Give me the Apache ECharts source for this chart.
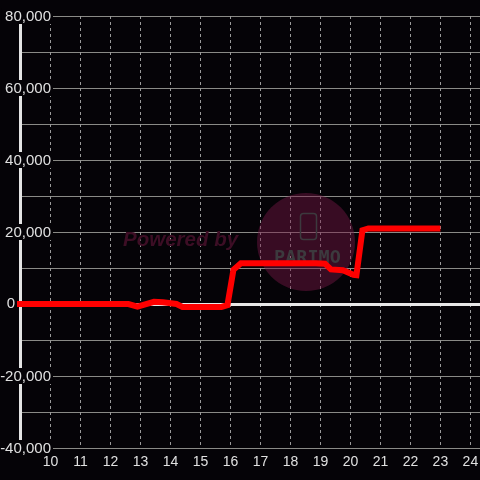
<!DOCTYPE html>
<html><head><meta charset="utf-8">
<script src="https://cdn.jsdelivr.net/npm/echarts@6/dist/echarts.min.js"></script>
<style>html,body{margin:0;padding:0;background:#050307;}#c{width:480px;height:480px;}</style>
</head><body><div id="c"></div>
<script>
var xValues = [8.88, 12.6, 12.9, 13.45, 13.75, 14.2, 14.4, 15.7, 15.9, 16.1, 16.35, 18.85, 19.15, 19.35, 19.75, 20.1, 20.2, 20.4, 20.6, 23];
var yValues = [0, 0, -700, 600, 500, 0, -800, -800, -300, 9500, 11300, 11300, 11200, 9600, 9400, 8100, 8000, 20500, 21000, 21000];
var xTicks = [10, 11, 12, 13, 14, 15, 16, 17, 18, 19, 20, 21, 22, 23, 24];
var yTicks = [-40000, -20000, 0, 20000, 40000, 60000, 80000];

var seriesData = xValues.map(function (x, i) { return [x, yValues[i]]; });
var chart = echarts.init(document.getElementById('c'), null, {renderer: 'canvas'});
var fontFam = '"Liberation Sans", Arial, sans-serif';
chart.setOption({
  backgroundColor: '#050307',
  animation: false,
  grid: {left: 20.5, right: 0, top: 16, bottom: 32, containLabel: false, outerBoundsMode: 'none'},
  xAxis: [{
    type: 'value', min: 9, max: 24.32, interval: 1,
    axisLine: {show: false, onZero: false}, axisTick: {show: false},
    splitLine: {show: true, lineStyle: {color: '#9a9a9a', width: 1, type: [3, 3]}},
    axisLabel: {
      color: '#e0e0e0', fontSize: 14, fontFamily: fontFam, margin: 7,
      formatter: function (v) { return xTicks.indexOf(v) >= 0 ? String(v) : ''; }
    }
  }, {
    type: 'value', min: 9, max: 24.32, position: 'bottom',
    axisLine: {show: true, onZero: true, onZeroAxisIndex: 0, lineStyle: {color: '#e8e8e8', width: 3}},
    axisTick: {show: false}, axisLabel: {show: false}, splitLine: {show: false}
  }],
  yAxis: {
    type: 'value', min: -40000, max: 80000, interval: 20000,
    axisLine: {show: true, onZero: false, lineStyle: {color: '#e4e4e4', width: 3}},
    axisTick: {show: false},
    splitLine: {show: true, lineStyle: {color: '#8a8a86', width: 1}},
    minorTick: {show: false, splitNumber: 2},
    minorSplitLine: {show: true, lineStyle: {color: '#8a8a86', width: 1}},
    axisLabel: {
      align: 'right', margin: -32.5, fontSize: 15, fontFamily: fontFam, color: '#e0e0e0',
      formatter: function (v) {
        if (yTicks.indexOf(v) < 0) return '';
        if (v === 0) return '{z|0}';
        return '{n|' + v.toLocaleString('en-US') + '}';
      },
      rich: {
        n: {backgroundColor: '#050307', padding: [1, 2, 0, 4], fontSize: 15, fontFamily: fontFam, color: '#e0e0e0', lineHeight: 12},
        z: {padding: [0, 38, 0, 0], fontSize: 15, fontFamily: fontFam, color: '#e0e0e0'}
      }
    }
  },
  graphic: [
    {type: 'circle', z: 1, shape: {cx: 306, cy: 242, r: 49}, style: {fill: 'rgba(120,25,70,0.45)'}, silent: true},
    {type: 'text', z: 1, left: 123, top: 230, style: {text: 'Powered by', fill: '#3d0e25', font: 'italic bold 20.5px ' + fontFam}, silent: true},
    {type: 'rect', z: 1, shape: {x: 300.5, y: 213.5, width: 16, height: 26, r: 3}, style: {fill: 'none', stroke: '#3c3a3e', lineWidth: 1.5}, silent: true},
    {type: 'text', z: 1, left: 274, top: 249, style: {text: 'PARIMO', fill: '#3c3a3e', font: 'bold 18.5px "DejaVu Sans Mono", monospace'}, silent: true}
  ],
  series: [{
    type: 'line', z: 3, data: seriesData, symbol: 'none', clip: false,
    lineStyle: {color: '#ff0000', width: 6, cap: 'butt', join: 'miter'}
  }]
});
</script></body></html>
